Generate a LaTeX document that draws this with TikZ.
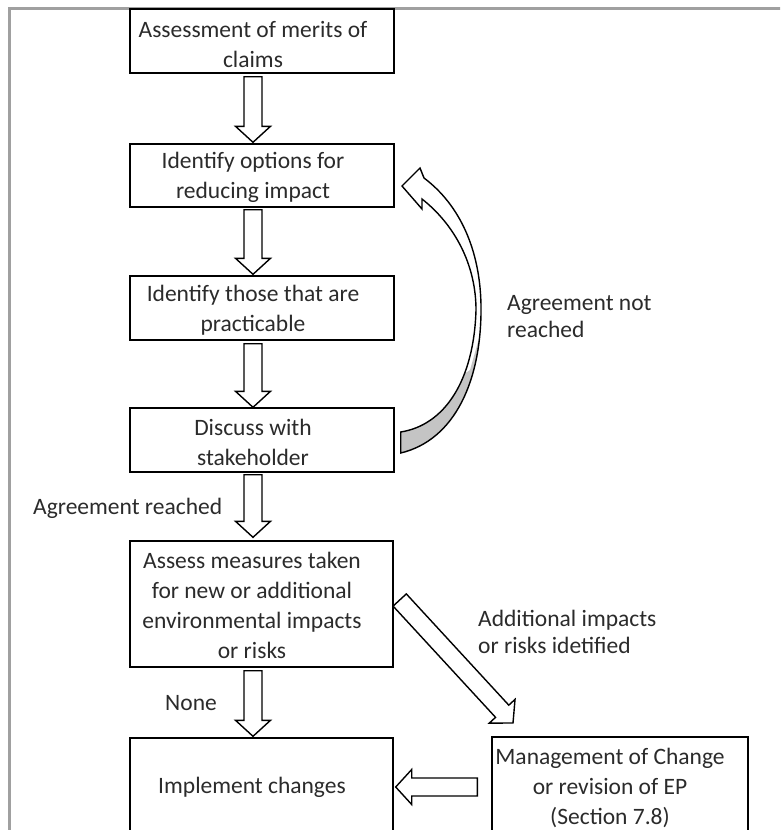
\documentclass[tikz,border=0pt]{standalone}
\usepackage{fontspec}
\setmainfont{Carlito}
\usetikzlibrary{calc}
\definecolor{txt}{HTML}{2B2B2B}
\definecolor{framegray}{HTML}{A0A0A0}
\definecolor{bandgray}{HTML}{C4C4C4}
\tikzset{
  box/.style={draw=black, line width=1.4pt, fill=white, inner sep=0pt},
  boxtext/.style={align=center, text=txt, inner sep=0pt, font=\fontsize{23.5pt}{30pt}\selectfont},
  lbl/.style={align=left, text=txt, inner sep=0pt, font=\fontsize{23.5pt}{27pt}\selectfont},
  barr/.style={draw=black, line width=1.4pt, fill=white, line join=miter},
  curvebar/.style={draw=black, line width=1.4pt, line join=miter},
}
\newcommand\blockarr[2]{%
  \path (#1) coordinate (baS) (#2) coordinate (baE);
  \draw[barr] let \p1=(baS), \p2=(baE),
    \n1={veclen(\x2-\x1,\y2-\y1)}, \n2={atan2(\y2-\y1,\x2-\x1)} in
    [shift={(\p1)}, rotate=\n2]
    (0pt,9pt) -- (\n1-16pt,9pt) -- (\n1-16pt,17.5pt) -- (\n1,0pt)
    -- (\n1-16pt,-17.5pt) -- (\n1-16pt,-9pt) -- (0pt,-9pt) -- cycle;
}
\begin{document}
\begin{tikzpicture}[x=1pt, y=-1pt]
\useasboundingbox (0,0) rectangle (780,830);
\clip (0,0) rectangle (780,830);
\fill[white] (0,0) rectangle (780,830);
% frame
\draw[framegray, line width=3pt] (9,832) -- (9,8.5) -- (782,8.5);

% boxes
\node[box, minimum width=264pt, minimum height=64pt] (b1) at (262,41) {};
\node[box, minimum width=264pt, minimum height=63pt] (b2) at (262,175.5) {};
\node[box, minimum width=264pt, minimum height=64pt] (b3) at (262,308) {};
\node[box, minimum width=264pt, minimum height=64pt] (b4) at (262,440) {};
\node[box, minimum width=263pt, minimum height=126pt] (b5) at (261.5,604) {};
\node[box, minimum width=263pt, minimum height=98pt] (b6) at (261.5,787) {};
\node[box, minimum width=256pt, minimum height=102pt] (b7) at (620,788) {};

% box texts
\node[boxtext] (t1) at (253,45) {Assessment of merits of\\claims};
\node[boxtext] (t2) at (253,177) {Identify options for\\reducing impact};
\node[boxtext] (t3) at (253,310) {Identify those that are\\practicable};
\node[boxtext] (t4) at (253,442) {Discuss with\\stakeholder};
\node[boxtext] (t5) at (252,605) {Assess measures taken\\for new or additional\\environmental impacts\\or risks};
\node[boxtext] (t6) at (252,787) {Implement changes};
\node[boxtext] (t7) at (610,788) {Management of Change\\or revision of EP\\(Section 7.8)};

% arrow axis
\coordinate (ax) at (253,0);
\blockarr{$(ax |- b1.south)+(0,3)$}{$(ax |- b2.north)+(0,-1)$}
\blockarr{$(ax |- b2.south)+(0,2)$}{$(ax |- b3.north)+(0,-1)$}
\blockarr{$(ax |- b3.south)+(0,3)$}{$(ax |- b4.north)+(0,0)$}
\blockarr{$(ax |- b4.south)+(0,2)$}{$(ax |- b5.north)+(0,-3)$}
\blockarr{$(ax |- b5.south)+(0,3)$}{$(ax |- b6.north)+(0,-1)$}
% diagonal arrow
\coordinate (dS) at ($(b5.east)+(6,-4)$);
\coordinate (dE) at (513,723);
\blockarr{dS}{dE}
% left arrow
\coordinate (lS) at ($(b7.west |- 0,787)+(-14,0)$);
\coordinate (lE) at ($(b6.east |- 0,787)+(2,0)$);
\blockarr{lS}{lE}

% curved arrow (agreement not reached)
\coordinate (cT1) at ($(b4.east)+(6,-8)$);
\coordinate (cT2) at ($(b4.east)+(6,13)$);
\path[fill=white] (cT2) .. controls (455,440) and (482,380) .. (481,305)
  .. controls (480,250) and (460,205) .. (424,178)
  -- (420,168) -- (402,186) -- (422,209) -- (422,199)
  .. controls (455,225) and (476,265) .. (476,310)
  .. controls (474,380) and (445,425) .. (cT1) -- cycle;
\begin{scope}
  \clip (cT2) .. controls (455,440) and (482,380) .. (481,305)
    .. controls (480,250) and (460,205) .. (424,178)
    -- (420,168) -- (402,186) -- (422,209) -- (422,199)
    .. controls (455,225) and (476,265) .. (476,310)
    .. controls (474,380) and (445,425) .. (cT1) -- cycle;
  \fill[bandgray] (395,475) -- (395,420) -- (470,370) -- (490,300) -- (500,300) -- (500,475) -- cycle;
\end{scope}
\draw[curvebar] (cT2) .. controls (455,440) and (482,380) .. (481,305)
  .. controls (480,250) and (460,205) .. (424,178)
  -- (420,168) -- (402,186) -- (422,209) -- (422,199)
  .. controls (455,225) and (476,265) .. (476,310)
  .. controls (474,380) and (445,425) .. (cT1) -- cycle;

% labels
\node[lbl, anchor=west] (lnot) at (507,316.5) {Agreement not\\reached};
\node[lbl, anchor=west] (lreach) at (33,508) {Agreement reached};
\node[lbl, anchor=west] (lnone) at (165,703) {None};
\node[lbl, anchor=west] (ladd) at (478,631.5) {Additional impacts\\or risks idetified};
\end{tikzpicture}
\end{document}
